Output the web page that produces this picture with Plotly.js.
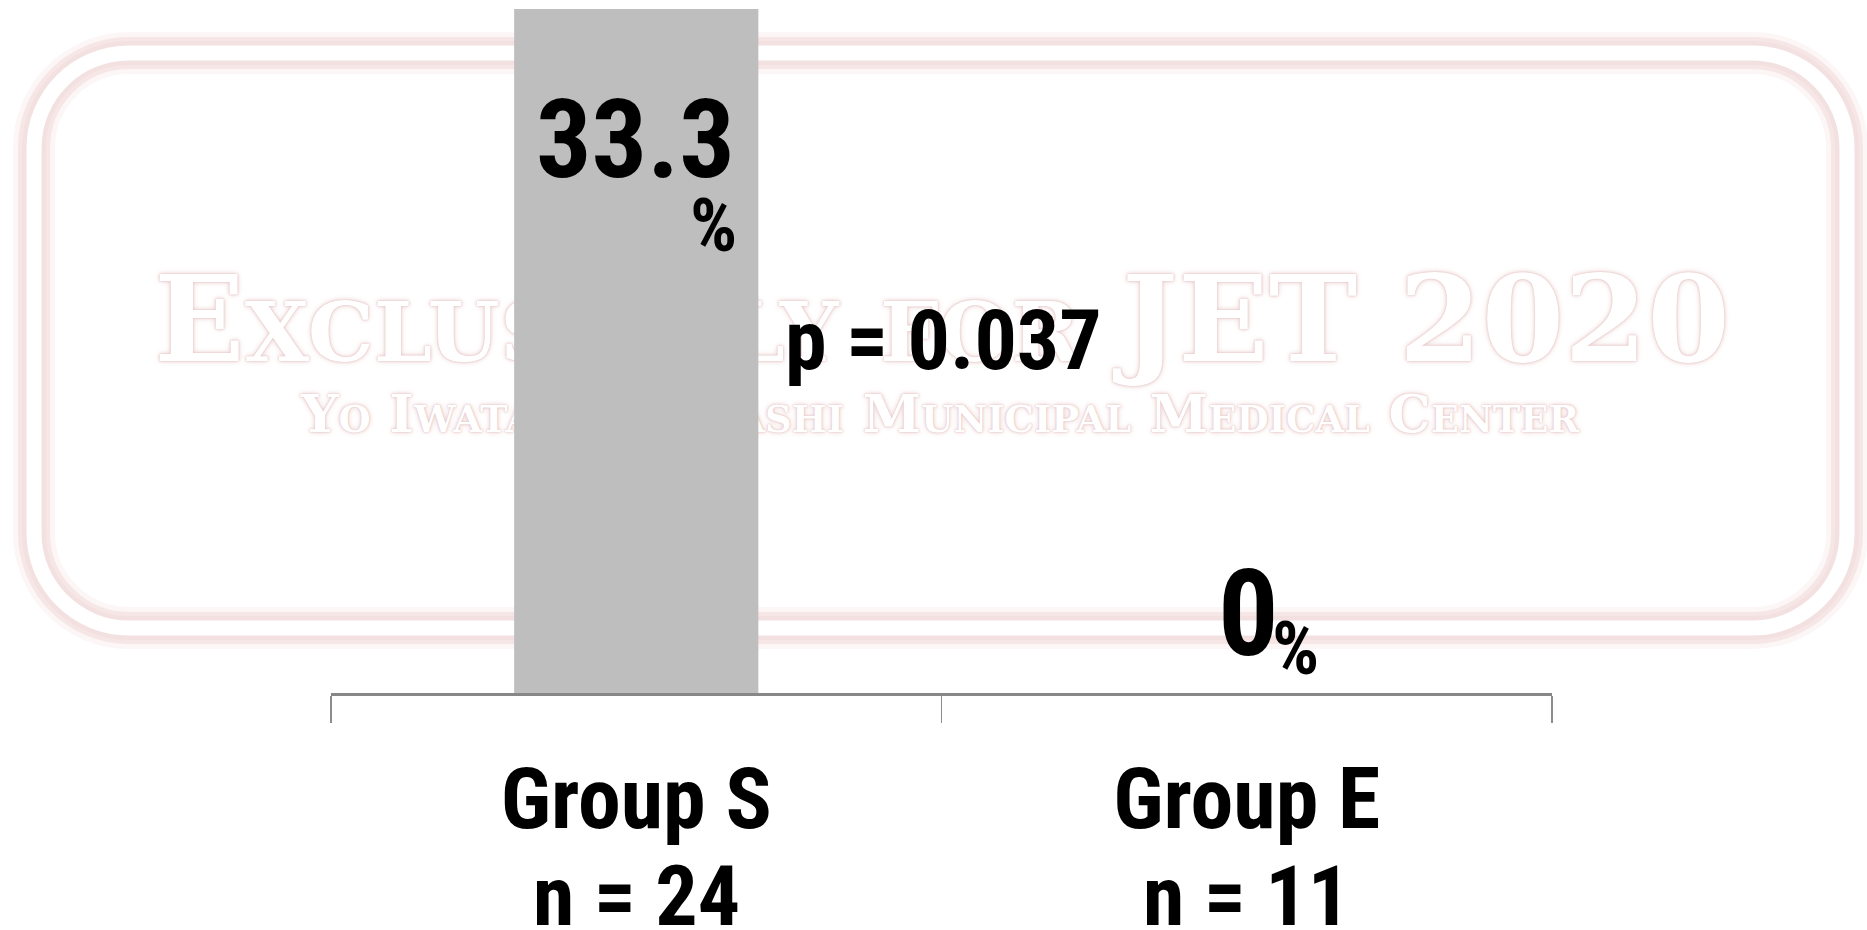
<!DOCTYPE html>
<html>
<head>
<meta charset="utf-8">
<script src="https://cdn.plot.ly/plotly-3.0.1.min.js"></script>
<style>
  html, body { margin: 0; padding: 0; background: #ffffff; }
  #chart { width: 1867px; height: 930px; }
</style>
</head>
<body>
<div id="chart"></div>
<script>
// ---- data ----
const categories = ['Group S', 'Group E'];
const sampleSizes = [24, 11];
const percentages = [33.3, 0];
const pValueText = 'p = 0.037';
const watermarkLines = ['Exclusively for JET 2020', 'Yo Iwata, Toyohashi Municipal Medical Center'];

// ---- layout geometry (pixels) ----
const W = 1867, H = 930;
const M = { l: 331, r: 315, t: 9, b: 237 };
const PW = W - M.l - M.r, PH = H - M.t - M.b;
const px2x = px => (px - M.l) / PW;
const px2y = py => (H - M.b - py) / PH;

const NARROW = "'Roboto Condensed', 'Liberation Sans Narrow', 'Arial Narrow', sans-serif";
const SERIF = "'DejaVu Serif', 'Liberation Serif', serif";

function roundedRectPath(x0, y0, x1, y1, r) {
  const k = 0.5523 * r;
  const P = (x, y) => px2x(x).toFixed(5) + ',' + px2y(y).toFixed(5);
  return 'M' + P(x0 + r, y0) +
    ' L' + P(x1 - r, y0) +
    ' C' + P(x1 - r + k, y0) + ' ' + P(x1, y0 + r - k) + ' ' + P(x1, y0 + r) +
    ' L' + P(x1, y1 - r) +
    ' C' + P(x1, y1 - r + k) + ' ' + P(x1 - r + k, y1) + ' ' + P(x1 - r, y1) +
    ' L' + P(x0 + r, y1) +
    ' C' + P(x0 + r - k, y1) + ' ' + P(x0, y1 - r + k) + ' ' + P(x0, y1 - r) +
    ' L' + P(x0, y0 + r) +
    ' C' + P(x0, y0 + r - k) + ' ' + P(x0 + r - k, y0) + ' ' + P(x0 + r, y0) + ' Z';
}

const framePath = roundedRectPath(34, 53, 1847, 628, 95);
const frameStrokes = [
  { w: 42, c: 'rgba(238,208,208,0.2)' },
  { w: 32, c: 'rgba(238,208,208,0.4)' },
  { w: 24, c: '#f3e1e1' },
  { w: 15, c: '#ffffff' }
];
const shapes = frameStrokes.map(s => ({
  type: 'path', xref: 'paper', yref: 'paper', layer: 'below',
  path: framePath, line: { color: s.c, width: s.w }, fillcolor: 'rgba(0,0,0,0)'
}));

const wmShadow = '0 0 1px #e0b8b8, 0 0 3px #e6c4c4, 0 0 6px #efd8d8';
function textShape(text, cx, cy, size) {
  return {
    type: 'rect', xref: 'paper', yref: 'paper', layer: 'below',
    x0: px2x(cx - 900), x1: px2x(cx + 900), y0: px2y(cy + 60), y1: px2y(cy - 60),
    line: { width: 0 }, fillcolor: 'rgba(0,0,0,0)',
    label: {
      text: text, textposition: 'middle center',
      font: { family: SERIF, size: size, color: '#ffffff', weight: 700, variant: 'small-caps', shadow: wmShadow }
    }
  };
}
shapes.push(textShape(watermarkLines[0], 942, 312, 119));
shapes.push(textShape(watermarkLines[1], 940, 410, 53));

// ---- annotations ----
const BLACK = '#000000';
const annotations = [];
// value numbers
annotations.push({
  x: categories[0], y: percentages[0], xref: 'x', yref: 'y',
  text: String(percentages[0]), showarrow: false, xanchor: 'center', yanchor: 'top',
  xshift: -1, yshift: -64, font: { family: NARROW, size: 110, color: BLACK, weight: 700 }
});
annotations.push({
  x: categories[0], y: percentages[0], xref: 'x', yref: 'y',
  text: '%', showarrow: false, xanchor: 'center', yanchor: 'top',
  xshift: 77, yshift: -171, font: { family: NARROW, size: 74, color: BLACK, weight: 700 }
});
annotations.push({
  x: categories[1], y: percentages[1], xref: 'x', yref: 'y',
  text: String(percentages[1]), showarrow: false, xanchor: 'center', yanchor: 'top',
  xshift: 2, yshift: 151, font: { family: NARROW, size: 120, color: BLACK, weight: 700 }
});
annotations.push({
  x: categories[1], y: percentages[1], xref: 'x', yref: 'y',
  text: '%', showarrow: false, xanchor: 'center', yanchor: 'top',
  xshift: 49, yshift: 90, font: { family: NARROW, size: 74, color: BLACK, weight: 700 }
});
// p value
annotations.push({
  x: 0.5, y: px2y(289), xref: 'paper', yref: 'paper',
  text: pValueText, showarrow: false, xanchor: 'center', yanchor: 'top',
  xshift: 2, font: { family: NARROW, size: 84, color: BLACK, weight: 700 }
});
// n = ...
categories.forEach((c, i) => {
  annotations.push({
    x: c, y: 0, xref: 'x', yref: 'paper',
    text: 'n = ' + sampleSizes[i], showarrow: false, xanchor: 'center', yanchor: 'top',
    yshift: -152, font: { family: NARROW, size: 84, color: BLACK, weight: 700 }
  });
});

const trace = {
  type: 'bar', x: categories, y: percentages,
  marker: { color: '#bebebe', line: { width: 0 } },
  hoverinfo: 'none'
};

const layout = {
  width: W, height: H,
  margin: M,
  paper_bgcolor: '#ffffff', plot_bgcolor: 'rgba(0,0,0,0)',
  showlegend: false,
  bargap: 0.6,
  xaxis: {
    type: 'category', showgrid: false, zeroline: false,
    showline: true, linecolor: '#878787', linewidth: 3,
    ticks: 'outside', tickson: 'boundaries', ticklen: 27, tickwidth: 1.5, tickcolor: '#8c8c8c',
    tickfont: { family: NARROW, size: 86, color: BLACK, weight: 700 },
    ticklabelstandoff: 29
  },
  yaxis: {
    range: [0, 33.3], visible: false, showgrid: false, zeroline: false, fixedrange: true
  },
  shapes: shapes,
  annotations: annotations
};

Plotly.newPlot('chart', [trace], layout, { displayModeBar: false, staticPlot: true });
</script>
</body>
</html>
